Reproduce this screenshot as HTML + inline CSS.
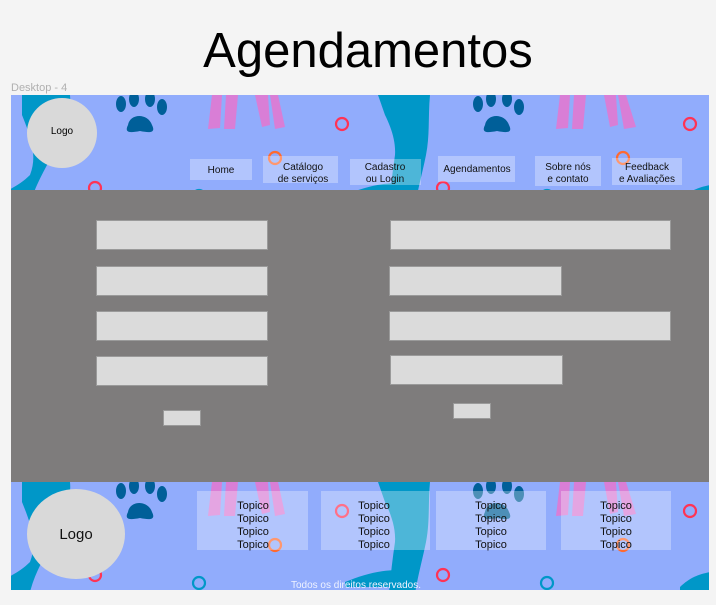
<!DOCTYPE html>
<html><head><meta charset="utf-8"><style>
html,body{margin:0;padding:0;background:#f4f4f4;}
svg{display:block;}
text{font-family:"Liberation Sans",sans-serif;}
</style></head><body>
<svg width="716" height="605" viewBox="0 0 716 605" xmlns="http://www.w3.org/2000/svg">
<defs>
<clipPath id="fr"><rect x="11" y="95" width="698" height="495"/></clipPath>
<g id="deco">
  <path d="M22 0 L70 0 C72 20 62 40 52 60 C45 75 35 90 30 110 L0 110 L0 100 C8 95 20 90 30 80 C38 60 30 40 22 20 Z" fill="#0097c8"/>
  <path d="M378 0 L430 0 C428 20 430 40 426 60 C422 80 416 100 414 120 L388 120 C390 100 392 80 395 60 C396 45 390 30 385 20 Z" fill="#0097c8"/>
  <path d="M345 100 C365 92 380 88 400 88 L400 105 L345 105 Z" fill="#0097c8"/>
  <g fill="#005f99">
    <ellipse cx="121" cy="9" rx="5" ry="8"/><ellipse cx="134" cy="4" rx="5" ry="8"/><ellipse cx="150" cy="4" rx="5" ry="8"/><ellipse cx="162" cy="12" rx="5" ry="8"/>
    <path d="M128 30 C130 18 148 18 152 30 C156 38 150 38 140 36 C130 38 124 38 128 30 Z"/>
    <ellipse cx="478" cy="9" rx="5" ry="8"/><ellipse cx="491" cy="4" rx="5" ry="8"/><ellipse cx="507" cy="4" rx="5" ry="8"/><ellipse cx="519" cy="12" rx="5" ry="8"/>
    <path d="M485 30 C487 18 505 18 509 30 C513 38 507 38 497 36 C487 38 481 38 485 30 Z"/>
  </g>
  <g fill="#d97ed6">
    <path d="M212 0 L222 0 L220 33 L208 34 Z"/><path d="M226 0 L238 0 L235 34 L224 34 Z"/>
    <path d="M255 0 L268 0 L270 30 L262 32 Z"/><path d="M270 0 L278 0 L285 32 L275 34 Z"/>
    <path d="M560 0 L570 0 L568 33 L556 34 Z"/><path d="M574 0 L586 0 L583 34 L572 34 Z"/>
    <path d="M604 0 L616 0 L618 30 L610 32 Z"/><path d="M618 0 L626 0 L636 32 L624 34 Z"/>
  </g>
  <g fill="none" stroke-width="2.2">
    <circle cx="342" cy="29" r="6" stroke="#ff3355"/>
    <circle cx="690" cy="29" r="6" stroke="#ff3355"/>
    <circle cx="275" cy="63" r="6" stroke="#ff6a30"/>
    <circle cx="623" cy="63" r="6" stroke="#ff6a30"/>
    <circle cx="95" cy="93" r="6" stroke="#ff3355"/>
    <circle cx="443" cy="93" r="6" stroke="#ff3355"/>
    <circle cx="199" cy="101" r="6" stroke="#0097c8"/>
    <circle cx="547" cy="101" r="6" stroke="#0097c8"/>
  </g>
  <path d="M680 105 C690 95 700 92 710 90 L710 110 L680 110 Z" fill="#0097c8"/>
</g>
</defs>
<text x="368" y="67" font-size="49" text-anchor="middle" fill="#000">Agendamentos</text>
<text x="11" y="91" font-size="11" fill="#b0b0b0">Desktop - 4</text>
<rect x="11" y="95" width="698" height="495" fill="#91acfc"/>
<g clip-path="url(#fr)">
  <use href="#deco" transform="translate(0,95)"/>
  <use href="#deco" transform="translate(0,482)"/>
</g>
<circle cx="62" cy="133" r="35" fill="#d9d9d9"/>
<text x="62" y="134" font-size="10" text-anchor="middle" fill="#000">Logo</text>
<g fill="#ffffff" fill-opacity="0.3">
  <rect x="190" y="159" width="62" height="21"/>
  <rect x="263" y="156" width="75" height="27"/>
  <rect x="350" y="159" width="71" height="26"/>
  <rect x="438" y="156" width="77" height="26"/>
  <rect x="535" y="156" width="66" height="30"/>
  <rect x="612" y="158" width="70" height="27"/>
</g>
<g font-size="10" fill="#111" text-anchor="middle">
  <text x="221" y="173">Home</text>
  <text x="303" y="170">Catálogo</text><text x="303" y="182">de serviços</text>
  <text x="385" y="170">Cadastro</text><text x="385" y="182">ou Login</text>
  <text x="477" y="172">Agendamentos</text>
  <text x="568" y="170">Sobre nós</text><text x="568" y="182">e contato</text>
  <text x="647" y="170">Feedback</text><text x="647" y="182">e Avaliações</text>
</g>
<rect x="11" y="190" width="698" height="292" fill="#7e7c7c"/>
<g fill="#dbdbdb" stroke="#9a9a9a" stroke-width="1">
  <rect x="96.5" y="220.5" width="171" height="29"/>
  <rect x="96.5" y="266.5" width="171" height="29"/>
  <rect x="96.5" y="311.5" width="171" height="29"/>
  <rect x="96.5" y="356.5" width="171" height="29"/>
  <rect x="163.5" y="410.5" width="37" height="15"/>
  <rect x="390.5" y="220.5" width="280" height="29"/>
  <rect x="389.5" y="266.5" width="172" height="29"/>
  <rect x="389.5" y="311.5" width="281" height="29"/>
  <rect x="390.5" y="355.5" width="172" height="29"/>
  <rect x="453.5" y="403.5" width="37" height="15"/>
</g>
<ellipse cx="76" cy="534" rx="49" ry="45" fill="#d9d9d9"/>
<text x="76" y="539" font-size="15" text-anchor="middle" fill="#111">Logo</text>
<g fill="#ffffff" fill-opacity="0.3">
  <rect x="197" y="491" width="111" height="59"/>
  <rect x="321" y="491" width="109" height="59"/>
  <rect x="436" y="491" width="110" height="59"/>
  <rect x="561" y="491" width="110" height="59"/>
</g>
<g font-size="11" fill="#111" text-anchor="middle">
  <text x="253" y="509">Topico</text><text x="253" y="522">Topico</text><text x="253" y="535">Topico</text><text x="253" y="548">Topico</text>
  <text x="374" y="509">Topico</text><text x="374" y="522">Topico</text><text x="374" y="535">Topico</text><text x="374" y="548">Topico</text>
  <text x="491" y="509">Topico</text><text x="491" y="522">Topico</text><text x="491" y="535">Topico</text><text x="491" y="548">Topico</text>
  <text x="616" y="509">Topico</text><text x="616" y="522">Topico</text><text x="616" y="535">Topico</text><text x="616" y="548">Topico</text>
</g>
<text x="356" y="588" font-size="10" text-anchor="middle" fill="#eef2ff">Todos os direitos reservados.</text>
</svg>
</body></html>
